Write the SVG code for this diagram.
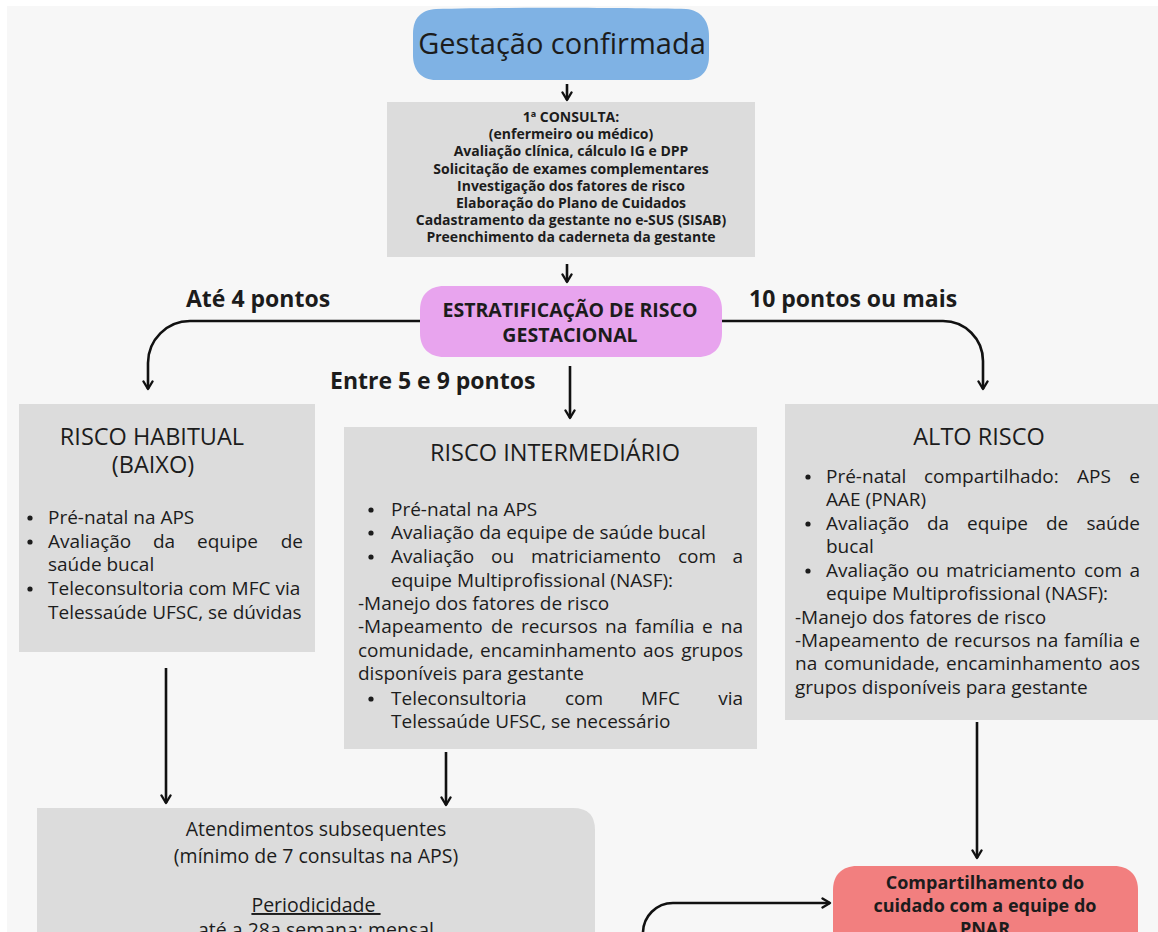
<svg xmlns="http://www.w3.org/2000/svg" width="1158" height="932" viewBox="0 0 1158 932">
<defs>
<marker id="ah" viewBox="0 0 12 12" refX="10" refY="6" markerWidth="12" markerHeight="12" markerUnits="userSpaceOnUse" orient="auto">
<path d="M2.5,1.5 L10,6 L2.5,10.5" fill="none" stroke="#111" stroke-width="2.4" stroke-linecap="round" stroke-linejoin="round"/>
</marker>
</defs>
<style>
text{font-family:"Open Sans","Noto Sans","Liberation Sans",sans-serif;fill:#1c1c1c}
.b{font-weight:bold}
.box{fill:#dcdcdc}
.t1{font-size:14px;font-weight:bold;text-anchor:middle}
.lbl{font-size:23px;font-weight:bold}
.ttl{font-size:23.5px;text-anchor:middle}
.bd{font-size:19px}
.e{text-anchor:end}
.m{text-anchor:middle}
.dot{fill:#1c1c1c}
.con path{fill:none;stroke:#111;stroke-width:2.6;marker-end:url(#ah)}
</style>
<rect x="0" y="0" width="1158" height="932" fill="#ffffff"/>
<rect x="7" y="6" width="1151" height="926" fill="#f7f7f7"/>

<g id="gestacao">
<path d="M436,9 C500,7 640,8 686,9 C700,10 709,20 709,36 L709,56 C709,72 700,80 686,80 L436,80 C421,80 413,70 413,55 L413,34 C413,18 421,10 436,9 Z" fill="#7fb2e4"/>
<text x="562" y="54" font-size="29" text-anchor="middle">Gestação confirmada</text>
</g>

<g id="consulta">
<rect class="box" x="387" y="102" width="368" height="155"/>
<text class="t1" x="571" y="122">1ª CONSULTA:</text>
<text class="t1" x="571" y="139.2">(enfermeiro ou médico)</text>
<text class="t1" x="571" y="156.4">Avaliação clínica, cálculo IG e DPP</text>
<text class="t1" x="571" y="173.6">Solicitação de exames complementares</text>
<text class="t1" x="571" y="190.8">Investigação dos fatores de risco</text>
<text class="t1" x="571" y="208">Elaboração do Plano de Cuidados</text>
<text class="t1" x="571" y="225.2">Cadastramento da gestante no e-SUS (SISAB)</text>
<text class="t1" x="571" y="242.4">Preenchimento da caderneta da gestante</text>
</g>

<g id="estratificacao">
<path d="M444,286 L698,286 C713,286 722,295 722,310 L722,333 C722,348 713,357 698,357 L444,357 C429,357 420,348 420,333 L420,310 C420,295 429,286 444,286 Z" fill="#e8a4ee"/>
<text x="570" y="317" font-size="19.5" class="b m">ESTRATIFICAÇÃO DE RISCO</text>
<text x="570" y="342" font-size="19.5" class="b m">GESTACIONAL</text>
</g>

<g id="labels">
<text class="lbl" x="186" y="307">Até 4 pontos</text>
<text class="lbl" x="749" y="307">10 pontos ou mais</text>
<text class="lbl" x="330" y="389">Entre 5 e 9 pontos</text>
</g>

<g id="risco-habitual">
<rect class="box" x="19" y="404" width="296" height="248"/>
<text class="ttl" x="152" y="445">RISCO HABITUAL</text>
<text class="ttl" x="153" y="473">(BAIXO)</text>
<circle class="dot" cx="30" cy="518" r="2.6"/>
<circle class="dot" cx="30" cy="542" r="2.6"/>
<circle class="dot" cx="30" cy="589" r="2.6"/>
<text class="bd" x="48" y="524">Pré-natal na APS</text>
<text class="bd" y="548"><tspan x="48">Avaliação</tspan><tspan x="153">da</tspan><tspan x="197">equipe</tspan></text>
<text class="bd e" x="303" y="548">de</text>
<text class="bd" x="48" y="571">saúde bucal</text>
<text class="bd" x="48" y="595">Teleconsultoria com MFC via</text>
<text class="bd" x="48" y="619">Telessaúde UFSC, se dúvidas</text>
</g>

<g id="risco-intermediario">
<rect class="box" x="344" y="427" width="413" height="322"/>
<text class="ttl" x="555" y="461">RISCO INTERMEDIÁRIO</text>
<circle class="dot" cx="371" cy="510" r="2.6"/>
<circle class="dot" cx="371" cy="533" r="2.6"/>
<circle class="dot" cx="371" cy="557" r="2.6"/>
<circle class="dot" cx="371" cy="699" r="2.6"/>
<text class="bd" x="391" y="516">Pré-natal na APS</text>
<text class="bd" x="391" y="539">Avaliação da equipe de saúde bucal</text>
<text class="bd" y="563"><tspan x="391">Avaliação</tspan><tspan x="491">ou</tspan><tspan x="531">matriciamento</tspan><tspan x="678">com</tspan></text>
<text class="bd e" x="743" y="563">a</text>
<text class="bd" x="391" y="587">equipe Multiprofissional (NASF):</text>
<text class="bd" x="358" y="610">-Manejo dos fatores de risco</text>
<text class="bd" y="633"><tspan x="358">-Mapeamento</tspan><tspan x="491">de</tspan><tspan x="521">recursos</tspan><tspan x="605">na</tspan><tspan x="635">família</tspan><tspan x="702">e</tspan></text>
<text class="bd e" x="743" y="633">na</text>
<text class="bd" y="657"><tspan x="358">comunidade,</tspan><tspan x="480">encaminhamento</tspan><tspan x="643">aos</tspan></text>
<text class="bd e" x="743" y="657">grupos</text>
<text class="bd" x="358" y="680">disponíveis para gestante</text>
<text class="bd" y="705"><tspan x="391">Teleconsultoria</tspan><tspan x="565">com</tspan><tspan x="641">MFC</tspan></text>
<text class="bd e" x="743" y="705">via</text>
<text class="bd" x="391" y="728">Telessaúde UFSC, se necessário</text>
</g>

<g id="alto-risco">
<rect class="box" x="785" y="404" width="373" height="316"/>
<text class="ttl" x="979" y="445">ALTO RISCO</text>
<circle class="dot" cx="808" cy="477" r="2.6"/>
<circle class="dot" cx="808" cy="524" r="2.6"/>
<circle class="dot" cx="808" cy="571" r="2.6"/>
<text class="bd" y="483"><tspan x="826">Pré-natal</tspan><tspan x="924">compartilhado:</tspan><tspan x="1077">APS</tspan></text>
<text class="bd e" x="1140" y="483">e</text>
<text class="bd" x="826" y="506">AAE (PNAR)</text>
<text class="bd" y="530"><tspan x="826">Avaliação</tspan><tspan x="927">da</tspan><tspan x="967">equipe</tspan><tspan x="1046">de</tspan></text>
<text class="bd e" x="1140" y="530">saúde</text>
<text class="bd" x="826" y="553">bucal</text>
<text class="bd" y="577"><tspan x="826">Avaliação</tspan><tspan x="916">ou</tspan><tspan x="946">matriciamento</tspan><tspan x="1084">com</tspan></text>
<text class="bd e" x="1140" y="577">a</text>
<text class="bd" x="826" y="600">equipe Multiprofissional (NASF):</text>
<text class="bd" x="795" y="624">-Manejo dos fatores de risco</text>
<text class="bd" y="647"><tspan x="795">-Mapeamento</tspan><tspan x="926">de</tspan><tspan x="954">recursos</tspan><tspan x="1036">na</tspan><tspan x="1064">família</tspan></text>
<text class="bd e" x="1140" y="647">e</text>
<text class="bd" y="670"><tspan x="795">na</tspan><tspan x="824">comunidade,</tspan><tspan x="946">encaminhamento</tspan></text>
<text class="bd e" x="1140" y="670">aos</text>
<text class="bd" x="795" y="694">grupos disponíveis para gestante</text>
</g>

<g id="atendimentos">
<path d="M37,808 L573,808 Q595,808 595,830 L595,940 L37,940 Z" fill="#dcdcdc"/>
<text x="316" y="836" font-size="19.5" class="m">Atendimentos subsequentes</text>
<text x="316" y="863" font-size="19.5" class="m">(mínimo de 7 consultas na APS)</text>
<text x="316" y="912" font-size="19.5" class="m" text-decoration="underline">Periodicidade&#160;</text>
<text x="316" y="937" font-size="19.5" class="m">até a 28a semana: mensal</text>
</g>

<g id="compartilhamento">
<path d="M857,866 L1114,866 C1129,866 1138,875 1138,890 L1138,950 L833,950 L833,890 C833,875 842,866 857,866 Z" fill="#f27f7f"/>
<text x="985" y="889" font-size="18" class="b m">Compartilhamento do</text>
<text x="985" y="912" font-size="18" class="b m">cuidado com a equipe do</text>
<text x="985" y="935" font-size="18" class="b m">PNAR</text>
</g>

<g id="connectors" class="con">
<path d="M567,84 V100"/>
<path d="M567,264 V282"/>
<path d="M420,321 H190 A42,42 0 0 0 148,363 V389"/>
<path d="M722,321 H943 A40,40 0 0 1 983,361 V389"/>
<path d="M570,366 V418"/>
<path d="M166,668 V803"/>
<path d="M446,752 V805"/>
<path d="M977,722 V858"/>
<path d="M643,940 V933 A30,30 0 0 1 673,903 H830"/>
</g>
</svg>
